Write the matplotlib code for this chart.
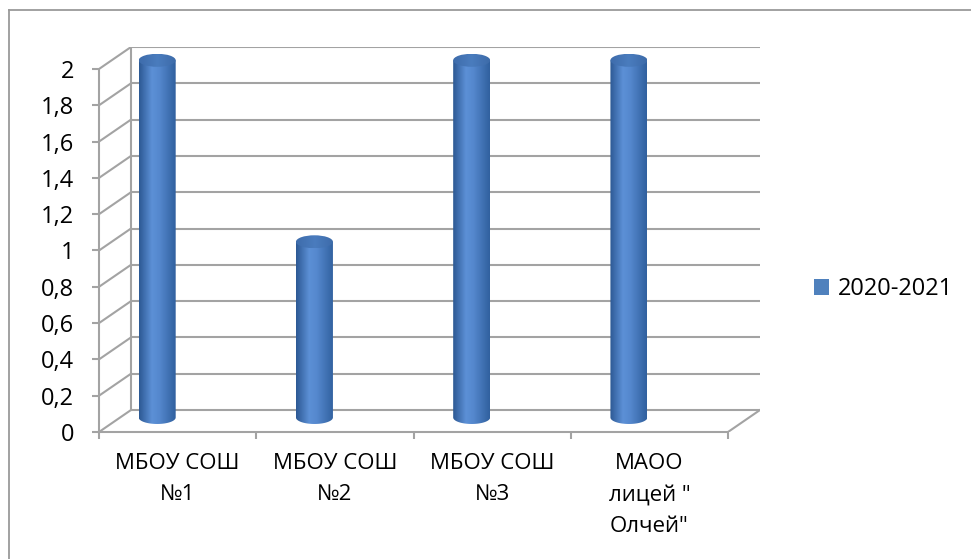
import numpy as np
import matplotlib
matplotlib.use("Agg")
import matplotlib.pyplot as plt
from matplotlib.patches import Ellipse, Patch, PathPatch
from matplotlib.path import Path
from matplotlib.colors import LinearSegmentedColormap
from matplotlib.lines import Line2D

plt.rcParams['font.family'] = ['Open Sans', 'DejaVu Sans']

categories = ["МБОУ СОШ\n№1", "МБОУ СОШ\n№2", "МБОУ СОШ\n№3", "МАОО\nлицей \"\nОлчей\""]
values = [2, 1, 2, 2]
series_name = "2020-2021"
yticks = [0, 0.2, 0.4, 0.6, 0.8, 1.0, 1.2, 1.4, 1.6, 1.8, 2.0]
ytick_labels = ["0", "0,2", "0,4", "0,6", "0,8", "1", "1,2", "1,4", "1,6", "1,8", "2"]

W, H = 971, 559
fig = plt.figure(figsize=(W / 100, H / 100), dpi=100)

# axes box in pixels
L, R, B, T = 99, 760, 432, 47
ax = fig.add_axes([L / W, 1 - B / H, (R - L) / W, (B - T) / H])
n = len(categories)
cat_px = (728 - L) / n
val_px = (B - 69) / 2.0
dx = (R - L) / cat_px - n          # depth offset in category units
dy = (B - T) / val_px - 2.0        # depth offset in value units
ax.set_xlim(0, n + dx)
ax.set_ylim(0, 2 + dy)

grid_c = '#A3A3A3'
lw = 1.5
# back wall gridlines & side wall diagonals
for v in yticks:
    ax.plot([dx, n + dx], [v + dy, v + dy], color=grid_c, lw=lw, zorder=1, solid_capstyle='butt')
    ax.plot([0, dx], [v, v + dy], color=grid_c, lw=lw, zorder=1)
ax.plot([dx, dx], [dy, 2 + dy], color=grid_c, lw=lw, zorder=1)
# floor
ax.plot([n, n + dx], [0, dy], color=grid_c, lw=lw, zorder=1)

# spines / axis
for s in ['top', 'right']:
    ax.spines[s].set_visible(False)
for s in ['left', 'bottom']:
    ax.spines[s].set_color(grid_c)
    ax.spines[s].set_linewidth(lw)
ax.spines['left'].set_bounds(0, 2)
ax.spines['bottom'].set_bounds(0, n)
ax.set_yticks(yticks)
ax.set_yticklabels(ytick_labels, fontsize=17)
ax.tick_params(axis='y', direction='out', length=5, width=lw, color=grid_c, pad=13)
ax.set_xticks(np.arange(n + 1))
ax.set_xticklabels([])
ax.tick_params(axis='x', which='major', direction='out', length=5, width=lw, color=grid_c)
ax.set_xticks(np.arange(n) + 0.5, minor=True)
ax.set_xticklabels(categories, minor=True, fontsize=16, linespacing=1.65, va='top')
ax.tick_params(axis='x', which='minor', length=0, pad=15)

# cylinders
cmap = LinearSegmentedColormap.from_list('cyl', [
    (0.0, '#2C5893'), (0.35, '#5C90D6'), (0.55, '#5588CE'), (1.0, '#30609E')])
top_cmap = LinearSegmentedColormap.from_list('cyltop', [
    (0.0, '#3E6CAB'), (0.5, '#4A7CBE'), (1.0, '#3D6BA9')])
grad = np.linspace(0, 1, 256).reshape(1, -1)
w = 37 / cat_px
eh = 6.5 / val_px
shift = -0.13
base = 0.08
for i, v in enumerate(values):
    cx = i + 0.5 + shift
    top = v + 0.048
    x0, x1 = cx - w / 2, cx + w / 2
    th = np.linspace(np.pi, 2 * np.pi, 60)
    verts = [(cx + w / 2 * np.cos(t), base + eh * np.sin(t)) for t in th]
    verts += [(x1, top), (x0, top), verts[0]]
    codes = [Path.MOVETO] + [Path.LINETO] * (len(verts) - 2) + [Path.CLOSEPOLY]
    body = PathPatch(Path(verts, codes), facecolor='none', edgecolor='none')
    ax.add_patch(body)
    im = ax.imshow(grad, extent=[x0, x1, base - eh, top], aspect='auto',
                   cmap=cmap, origin='lower', zorder=3, interpolation='bilinear')
    im.set_clip_path(body)
    el = Ellipse((cx, top), w, 2 * eh, facecolor='none', edgecolor='none')
    ax.add_patch(el)
    im2 = ax.imshow(grad, extent=[x0, x1, top - eh, top + eh], aspect='auto',
                    cmap=top_cmap, origin='lower', zorder=4, interpolation='bilinear')
    im2.set_clip_path(el)

ax.set_xlim(0, n + dx)
ax.set_ylim(0, 2 + dy)

# legend
fig.legend(handles=[Patch(facecolor='#4F81BD', edgecolor='none', label=series_name)],
           loc='center left', bbox_to_anchor=(814 / W, 1 - 289 / H), frameon=False,
           fontsize=17, handlelength=0.65, handleheight=0.65, handletextpad=0.35,
           borderaxespad=0, borderpad=0)

# outer chart border (left & top visible)
fig.add_artist(Line2D([9 / W, 9 / W], [0, 1 - 10 / H], transform=fig.transFigure,
                      color='#9A9A9A', lw=1.3))
fig.add_artist(Line2D([9 / W, 1], [1 - 10 / H, 1 - 10 / H], transform=fig.transFigure,
                      color='#9A9A9A', lw=1.3))

fig.savefig('out.png', dpi=100)
